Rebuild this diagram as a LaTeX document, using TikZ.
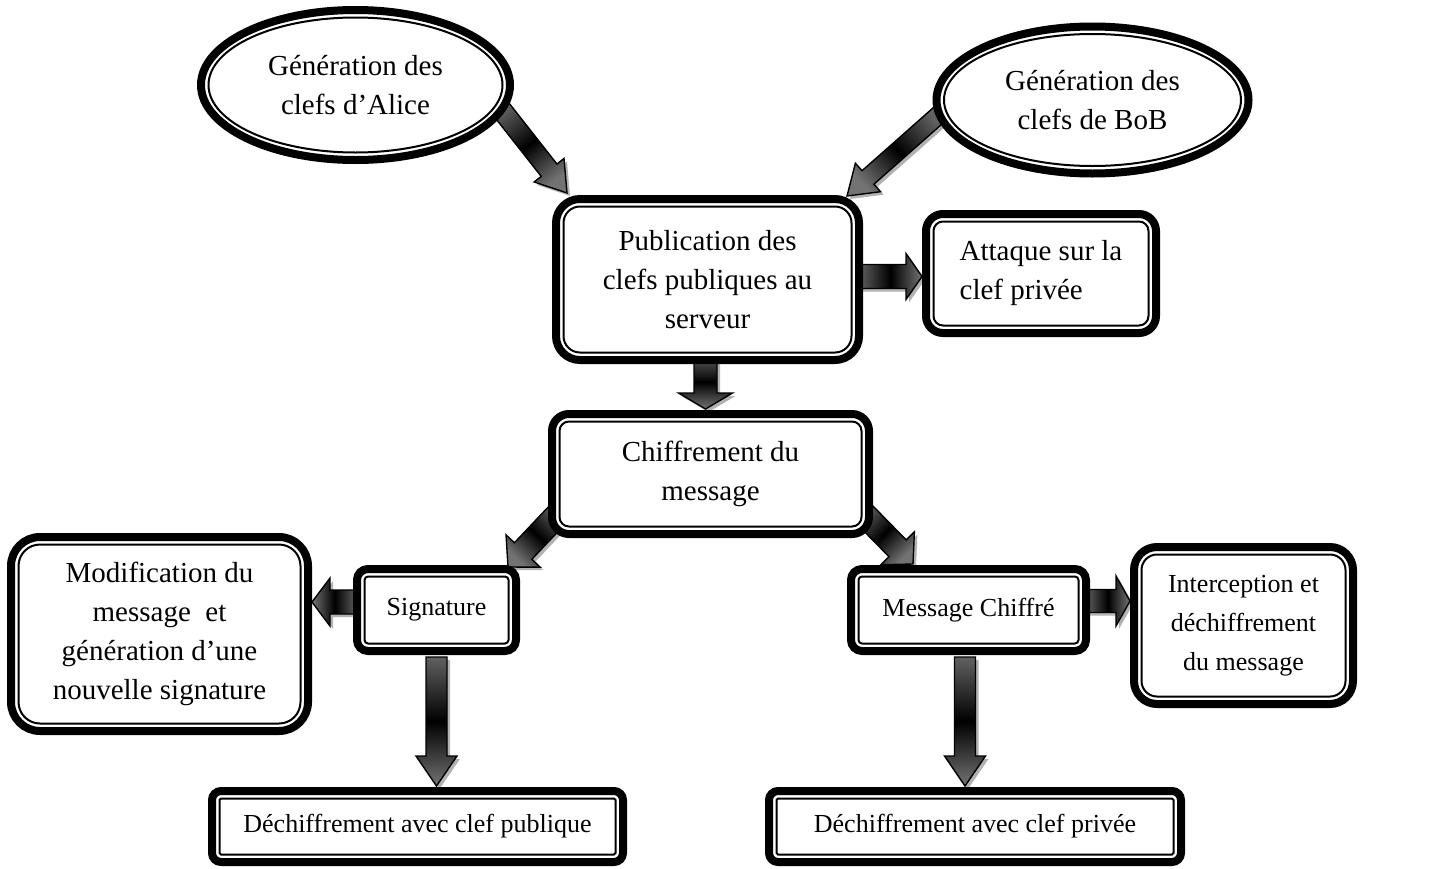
\documentclass[tikz,border=0pt]{standalone}
\usepackage{fontspec}
\setmainfont{Liberation Serif}
\usetikzlibrary{calc,shapes.geometric}

\pgfdeclarelayer{paper}
\pgfdeclarelayer{arrows}
\pgfsetlayers{paper,arrows,main}

\newcommand\bigtxt{\fontsize{14.5pt}{19.5pt}\selectfont}
\newcommand\midtxt{\fontsize{13pt}{19.5pt}\selectfont}
\newcommand\smalltxt{\fontsize{13pt}{19.5pt}\selectfont}

\tikzset{
  boxframe/.style={draw, line width=4pt, fill=white, outer sep=0pt, inner sep=0pt,
    align=center, font=\bigtxt},
  innerline/.style={draw, line width=1pt, outer sep=0pt, inner sep=0pt},
  arrowbody/.style={draw=black, line width=0.7pt, line join=miter,
    top color=black!55, bottom color=black!62, middle color=black},
  arrowshadow/.style={fill=black!30, draw=none},
}

% rounded box with thick-thin border: name, centre, width, height, radius, options, text
\newcommand\rbox[7]{%
  \node[boxframe, rectangle, rounded corners=#5, minimum width=#3, minimum height=#4, #6] (#1) at #2 {#7};
  \node[innerline, rectangle, rounded corners=#5-3.75pt, minimum width=#3-7.5pt,
    minimum height=#4-7.5pt] (#1-in) at (#1.center) {};
}
% ellipse with thick-thin border: name, centre, width, height, text
\newcommand\ebox[5]{%
  \node[boxframe, ellipse, minimum width=#3, minimum height=#4] (#1) at #2 {#5};
  \node[innerline, ellipse, minimum width=#3-7.5pt, minimum height=#4-7.5pt] (#1-in) at (#1.center) {};
}
% shaded block arrow: from, to, shaft half-width, head half-width, head length
\newcommand\blockarrow[5]{%
  \coordinate (ba-s) at #1;
  \coordinate (ba-t) at #2;
  \coordinate (ba-h) at ($(ba-t)!#5!(ba-s)$);
  \coordinate (ba-1) at ($(ba-s)!#3!90:(ba-t)$);
  \coordinate (ba-2) at ($(ba-h)!#3!90:(ba-t)$);
  \coordinate (ba-3) at ($(ba-h)!#4!90:(ba-t)$);
  \coordinate (ba-4) at ($(ba-h)!#4!-90:(ba-t)$);
  \coordinate (ba-5) at ($(ba-h)!#3!-90:(ba-t)$);
  \coordinate (ba-6) at ($(ba-s)!#3!-90:(ba-t)$);
  \pgfmathanglebetweenpoints{\pgfpointanchor{ba-s}{center}}{\pgfpointanchor{ba-t}{center}}%
  \pgfmathsetmacro\baangle{\pgfmathresult-90}%
  \fill[arrowshadow, transform canvas={shift={(1.5pt,-1.5pt)}}]
    (ba-1) -- (ba-2) -- (ba-3) -- (ba-t) -- (ba-4) -- (ba-5) -- (ba-6) -- cycle;
  \draw[arrowbody, shading angle=\baangle]
    (ba-1) -- (ba-2) -- (ba-3) -- (ba-t) -- (ba-4) -- (ba-5) -- (ba-6) -- cycle;
}

\begin{document}
\begin{tikzpicture}[x=0.5pt, y=-0.5pt]
\useasboundingbox (0,0) rectangle (1446,868);
\begin{pgfonlayer}{paper}
  \fill[white] (0,0) rectangle (1446,868);
\end{pgfonlayer}

% key generation
\ebox{alice}{(355.5,85)}{154.5pt}{75pt}{Génération des\\clefs d’Alice}
\ebox{bob}{(1092.5,100)}{156pt}{73.5pt}{Génération des\\clefs de BoB}

% publication and attack
\rbox{pub}{(707.5,279.5)}{151.5pt}{80.5pt}{12pt}{}{Publication des\\clefs publiques au\\serveur}
\rbox{att}{(1041,273.5)}{115pt}{59.5pt}{8.5pt}{align=left}{Attaque sur la\\clef privée}

% encryption
\rbox{chiff}{(710.5,474)}{158.5pt}{60pt}{8.5pt}{}{Chiffrement du\\message}

% signature branch
\rbox{sig}{(436.5,610)}{79.5pt}{41pt}{5.5pt}{font=\smalltxt}{Signature}
\rbox{modif}{(159.5,634)}{148.5pt}{97pt}{14.5pt}{}{Modification du\\message\ \ et\\génération d’une\\nouvelle signature}
\rbox{dpub}{(417.5,826.5)}{205.5pt}{35.5pt}{4.5pt}{font=\smalltxt}{Déchiffrement avec clef publique}

% encrypted message branch
\rbox{msg}{(968.5,610)}{117.5pt}{41pt}{5.5pt}{font=\smalltxt}{Message Chiffré}
\rbox{inter}{(1243.5,625.5)}{109.5pt}{78.5pt}{11.5pt}{font=\midtxt}{Interception et\\déchiffrement\\du message}
\rbox{dpriv}{(975,826.5)}{206pt}{35.5pt}{4.5pt}{font=\smalltxt}{Déchiffrement avec clef privée}

\begin{pgfonlayer}{arrows}
  \blockarrow{($(alice.center)+(141.5,19)$)}{($(pub.north west)+(11,-6)$)}{5pt}{9.5pt}{14.5pt}
  \blockarrow{($(bob.center)+(-150.5,12)$)}{($(pub.north east)+(-12,-3)$)}{4.5pt}{9.5pt}{14pt}
  \blockarrow{($(pub.east)+(0,-3)$)}{($(att.west)+(-4,3)$)}{6pt}{11.5pt}{8pt}
  \blockarrow{($(pub.south)+(-2,-5)$)}{($(chiff.north)+(-5,-5)$)}{5.75pt}{13.5pt}{8pt}
  \blockarrow{($(chiff.south west)+(8,-22)$)}{($(sig.north east)+(-8,-2)$)}{6pt}{11.75pt}{11pt}
  \blockarrow{($(chiff.south east)+(-7,-22)$)}{($(msg.north west)+(62,-5)$)}{6pt}{11.75pt}{11pt}
  \blockarrow{($(sig.west)+(0,-8)$)}{($(modif.east)+(4,-32)$)}{6pt}{12pt}{9pt}
  \blockarrow{($(sig.south)+(0,6)$)}{($(dpub.north)+(19,-5)$)}{5.25pt}{10.25pt}{15pt}
  \blockarrow{($(msg.east)+(0,-9)$)}{($(inter.west)+(-4,-24.5)$)}{5.75pt}{12.5pt}{7pt}
  \blockarrow{($(msg.south)+(-3.5,6)$)}{($(dpriv.north)+(-10,-5)$)}{5.25pt}{10.25pt}{15pt}
\end{pgfonlayer}
\end{tikzpicture}
\end{document}
